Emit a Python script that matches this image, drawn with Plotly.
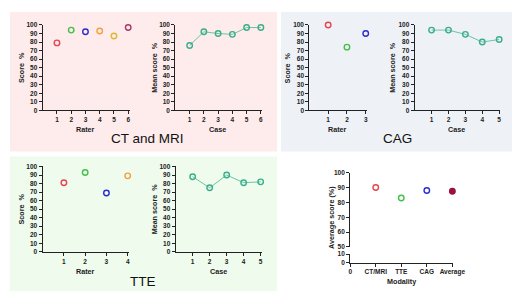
import plotly.graph_objects as go

W, H = 520, 291

# ---------------- data ----------------
ct_raters = [1, 2, 3, 4, 5, 6]
ct_rater_scores = [79, 94, 92, 93, 87, 97]
ct_cases = [1, 2, 3, 4, 5, 6]
ct_case_means = [76, 92, 90, 89, 97, 97]

cag_raters = [1, 2, 3]
cag_rater_scores = [100, 74, 90]
cag_cases = [1, 2, 3, 4, 5]
cag_case_means = [94, 94, 89, 80, 83]

tte_raters = [1, 2, 3, 4]
tte_rater_scores = [81, 93, 69, 89]
tte_cases = [1, 2, 3, 4, 5]
tte_case_means = [88, 75, 90, 81, 82]

modalities = ["CT/MRI", "TTE", "CAG", "Average"]
modality_scores = [90, 83, 88, 87.5]

rater_colors = ["#e8434e", "#44c04a", "#2c2ccc", "#f0a040", "#e0b830", "#a83a6a"]
modality_colors = ["#e8434e", "#44c04a", "#2c2ccc", "#9c1040"]
teal = "#3aae8c"
axis_col = "#222222"

FONT = "Liberation Sans"

def px_x(p):
    return p / W

def px_y(p):
    return 1 - p / H

fig = go.Figure()

# background panels
panels = [
    (0, 0, 275, 143, "#fdeceb"),
    (279, 0, 520, 143, "#eef2f7"),
    (0, 148, 275, 291, "#eefbed"),
]
for x0, y0, x1, y1, c in panels:
    fig.add_shape(type="rect", xref="paper", yref="paper",
                  x0=px_x(x0), x1=px_x(x1), y0=px_y(y1), y1=px_y(y0),
                  fillcolor=c, line_width=0, layer="below")

tickfont = dict(family=FONT, size=6.5, color="#222", weight="bold")

def base_axis(**kw):
    d = dict(showgrid=False, zeroline=False, showline=True, linecolor=axis_col,
             linewidth=1.2, ticks="outside", ticklen=3, tickwidth=1.1,
             tickcolor=axis_col, tickfont=tickfont, fixedrange=True)
    d.update(kw)
    return d

layout = {}
subs = [
    (1, 33.7, 14.67, 6.1, 13.3, 100.7),
    (2, 170.3, 14.67, 6.1, 13.3, 100.7),
    (3, 308.3, 19.33, 3.05, 13.3, 100.7),
    (4, 416.7, 17.4, 5.05, 13.3, 100.7),
    (5, 33.6, 21.9, 4.05, 158.3, 245.7),
    (6, 170.6, 17.5, 5.05, 158.3, 245.7),
]
ticks_n = {1: ct_raters, 2: ct_cases, 3: cag_raters, 4: cag_cases, 5: tte_raters, 6: tte_cases}
for i, x0, unit, rmax, yt_, yb in subs:
    xa = "xaxis" if i == 1 else f"xaxis{i}"
    ya = "yaxis" if i == 1 else f"yaxis{i}"
    layout[xa] = base_axis(domain=[px_x(x0), px_x(x0 + unit * rmax)], range=[0, rmax],
                           anchor="y" if i == 1 else f"y{i}",
                           tickvals=ticks_n[i], ticktext=[str(v) for v in ticks_n[i]])
    layout[ya] = base_axis(domain=[px_y(yb), px_y(yt_)], range=[0, 100],
                           anchor="x" if i == 1 else f"x{i}",
                           tickvals=list(range(0, 101, 10)))

# subplot 7: broken y axis, shared x axis
x7_0, x7_unit = 350.3, 26.3
layout["xaxis7"] = base_axis(domain=[px_x(x7_0), px_x(x7_0 + x7_unit * 4.02)], range=[0, 4.02],
                             anchor="y8", tickvals=[0, 1, 2, 3, 4],
                             ticktext=["0"] + modalities)
layout["xaxis8"] = dict(domain=layout["xaxis7"]["domain"], range=[0, 4.02], anchor="y7",
                        matches="x7", visible=False, showgrid=False, zeroline=False,
                        fixedrange=True)
layout["yaxis7"] = base_axis(domain=[px_y(240.7), px_y(164.7)], range=[50, 100],
                             anchor="x8", tickvals=list(range(50, 101, 10)))
layout["yaxis8"] = base_axis(domain=[px_y(256.7), px_y(248)], range=[0, 10],
                             anchor="x7", tickvals=[0, 10])

def mk(i):
    return ("x" if i == 1 else f"x{i}"), ("y" if i == 1 else f"y{i}")

for i, xs, ys in [(1, ct_raters, ct_rater_scores), (3, cag_raters, cag_rater_scores),
                  (5, tte_raters, tte_rater_scores)]:
    xr, yr = mk(i)
    fig.add_trace(go.Scatter(x=xs, y=ys, xaxis=xr, yaxis=yr, mode="markers",
                             cliponaxis=False,
                             marker=dict(symbol="circle-open", size=5.5,
                                         color=rater_colors[:len(xs)],
                                         line=dict(width=1.4, color=rater_colors[:len(xs)]))))

for i, xs, ys in [(2, ct_cases, ct_case_means), (4, cag_cases, cag_case_means),
                  (6, tte_cases, tte_case_means)]:
    xr, yr = mk(i)
    fig.add_trace(go.Scatter(x=xs, y=ys, xaxis=xr, yaxis=yr, mode="lines+markers",
                             cliponaxis=False,
                             line=dict(color="#6cc4a4", width=1),
                             marker=dict(symbol="circle-open", size=5.5, color=teal,
                                         line=dict(width=1.4, color=teal))))

symbols = ["circle-open", "circle-open", "circle-open", "circle"]
fig.add_trace(go.Scatter(x=[1, 2, 3, 4], y=modality_scores, xaxis="x8", yaxis="y7",
                         mode="markers", cliponaxis=False,
                         marker=dict(symbol=symbols, size=5.5, color=modality_colors,
                                     line=dict(width=1.4, color=modality_colors))))
# empty trace so the lower (0-10) segment subplot is created
fig.add_trace(go.Scatter(x=[None], y=[None], xaxis="x7", yaxis="y8", mode="markers",
                         hoverinfo="skip"))

ann = []
lab = dict(family=FONT, size=7.2, color="#222", weight="bold")
def xt(text, xpx, ypx):
    ann.append(dict(text=text, x=px_x(xpx), y=px_y(ypx), xref="paper", yref="paper",
                    showarrow=False, font=lab, xanchor="center", yanchor="middle"))
def yt(text, xpx, ypx):
    ann.append(dict(text=text, x=px_x(xpx), y=px_y(ypx), xref="paper", yref="paper",
                    showarrow=False, font=lab, textangle=-90, xanchor="center", yanchor="middle"))

xt("Rater", 78, 120.3); yt("Score  %", 11.7, 57)
xt("Case", 214, 120.3); yt("Mean score  %", 148.5, 57)
xt("Rater", 337.5, 120.3); yt("Score  %", 286, 57)
xt("Case", 460, 120.3); yt("Mean score  %", 394.5, 57)
xt("Rater", 77.7, 265.7); yt("Score  %", 11.7, 202)
xt("Case", 214.5, 265.7); yt("Mean score  %", 148.5, 202)
xt("Modality", 403.3, 276); yt("Average score (%)", 331.5, 210)

big = dict(family=FONT, size=13.5, color="#111")
for text, xpx, ypx in [("CT and MRI", 142, 130), ("CAG", 399, 130), ("TTE", 137, 276.5)]:
    ann.append(dict(text=text, x=px_x(xpx), y=px_y(ypx), xref="paper", yref="paper",
                    showarrow=False, font=big, xanchor="center", yanchor="middle"))

fig.update_layout(width=W, height=H, margin=dict(l=0, r=0, t=0, b=0),
                  paper_bgcolor="white", plot_bgcolor="rgba(0,0,0,0)",
                  showlegend=False, annotations=ann, **layout)

fig.write_html("out.html", config={"displayModeBar": False})
